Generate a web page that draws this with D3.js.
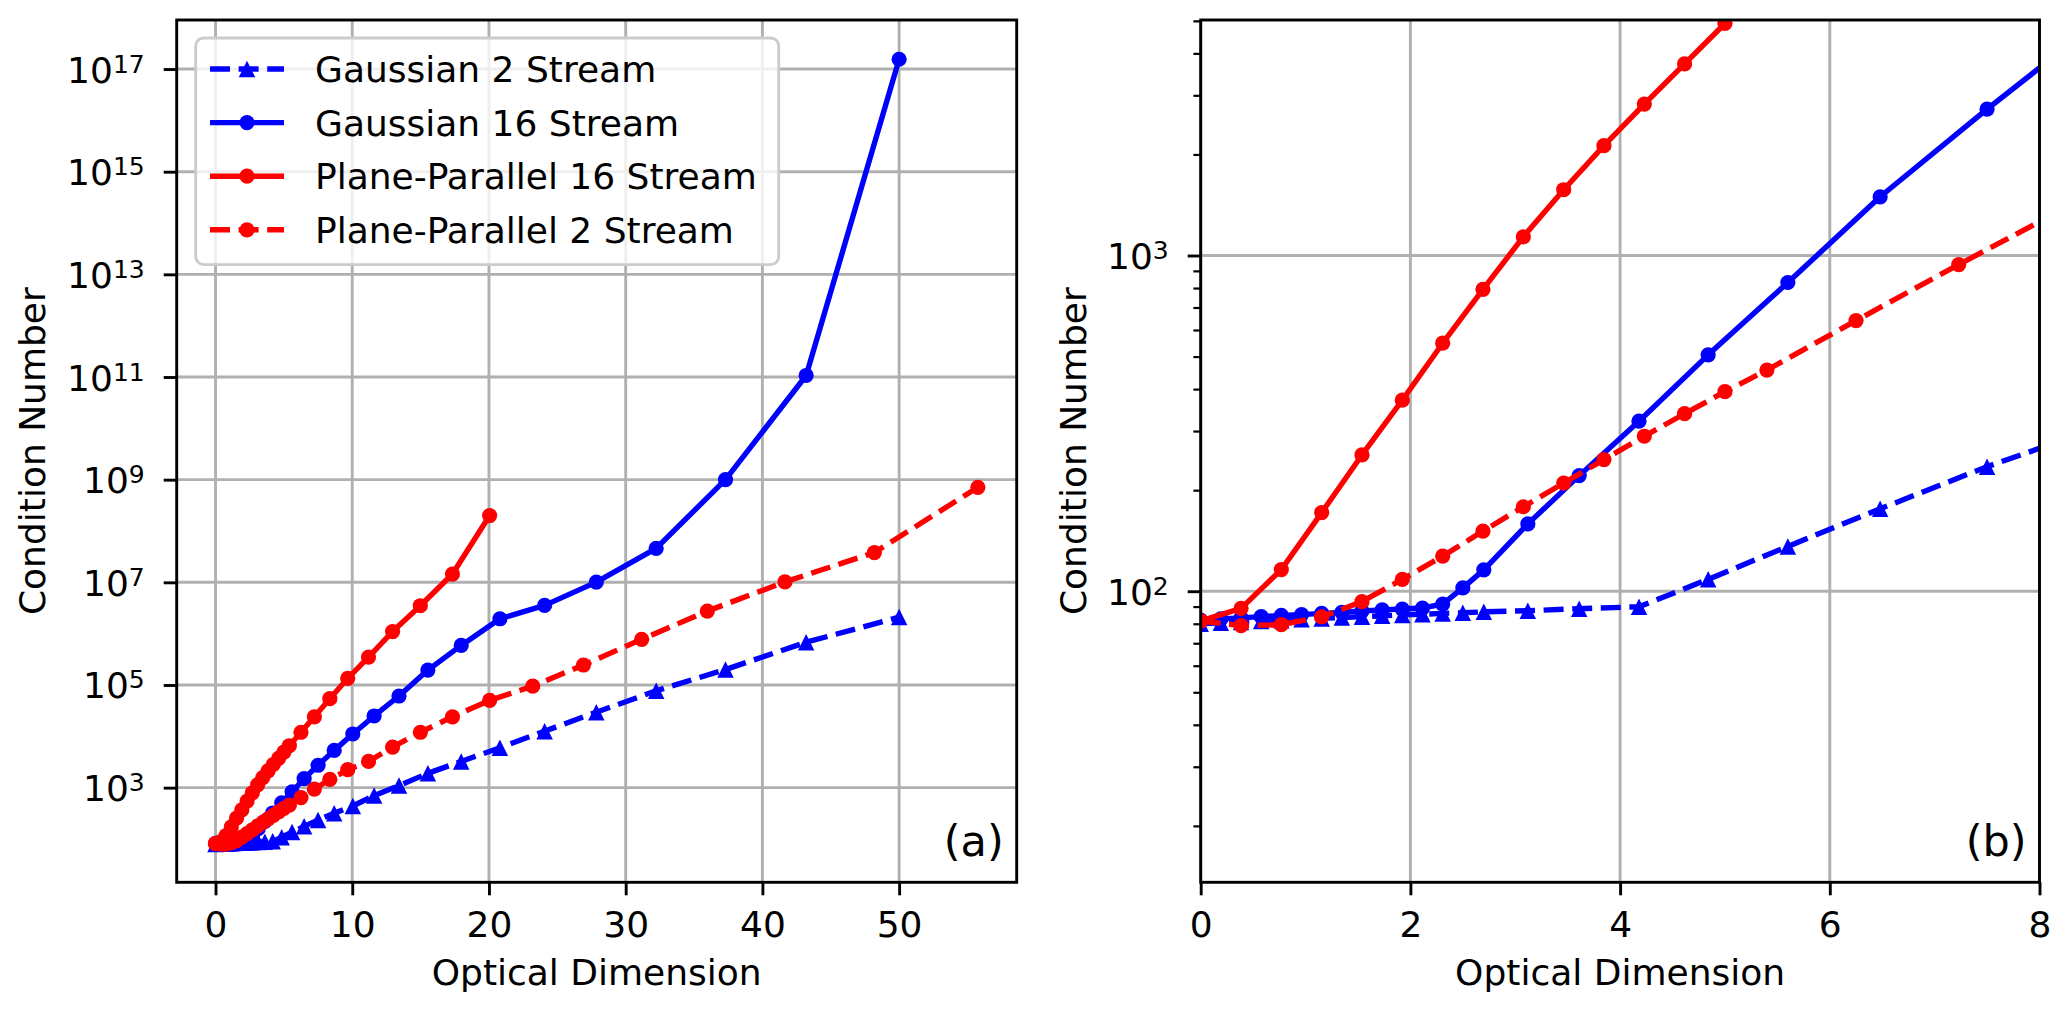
<!DOCTYPE html>
<html><head><meta charset="utf-8">
<script src="https://cdn.jsdelivr.net/npm/d3@7"></script>
<style>body{margin:0;background:#fff} text{font-family:"DejaVu Sans",sans-serif;fill:#000}</style>
</head><body><svg id="c" width="2067" height="1013"></svg>
<script>
// ---------------- DATA ----------------
const seriesNames = ["Gaussian 2 Stream", "Gaussian 16 Stream", "Plane-Parallel 16 Stream", "Plane-Parallel 2 Stream"];

const gauss2X = [0, 0.192, 0.385, 0.577, 0.769, 0.962, 1.154, 1.346, 1.538, 1.731, 1.923, 2.115, 2.308, 2.5,
  2.70, 3.12, 3.61, 4.18, 4.84, 5.60, 6.48, 7.50, 8.68, 10.04, 11.6, 13.42, 15.53, 17.97, 20.8, 24.07, 27.85, 32.23, 37.3, 43.2, 50.0];
const gauss2Y = [80, 80.5, 81, 81.5, 82, 82.5, 83, 83.5, 84, 84.5, 85, 85.4, 85.9, 86.3,
  86.8, 87.5, 88.7, 89.9, 108.5, 136, 176, 235, 316, 440, 700, 1100, 1900, 3240, 6000, 1.26e4, 2.95e4, 7.7e4, 2.0e5, 6.8e5, 2.1e6];

const gauss16X = [0, 0.192, 0.385, 0.577, 0.769, 0.962, 1.154, 1.346, 1.538, 1.731, 1.923, 2.115, 2.308, 2.5,
  2.70, 3.12, 3.61, 4.18, 4.84, 5.60, 6.48, 7.50, 8.68, 10.04, 11.6, 13.42, 15.53, 17.97, 20.8, 24.07, 27.85, 32.23, 37.3, 43.2, 50.0];
const gauss16Y = [82, 82.7, 83.3, 84, 84.7, 85.2, 85.9, 86.5, 87.3, 88, 88.5, 89.1, 91.6, 102.3,
  115.8, 158.7, 221, 321, 506, 831, 1496, 2729, 5320, 1.11e4, 2.49e4, 6.1e4, 1.95e5, 5.9e5, 1.95e6, 3.55e6, 1.01e7, 4.6e7, 1.0e9, 1.07e11, 1.55e17];

const pp16X = [0, 0.385, 0.769, 1.154, 1.538, 1.923, 2.308, 2.692, 3.077, 3.462, 3.846, 4.231, 4.615, 5.0,
  5.40, 6.25, 7.23, 8.36, 9.67, 11.19, 12.95, 14.98, 17.33, 20.05];
const pp16Y = [81.6, 88.9, 116, 171.5, 254.6, 370.7, 548, 793, 1137, 1570, 2124, 2825, 3724, 4911,
  6550, 1.2e4, 2.4e4, 5.4e4, 1.35e5, 3.5e5, 1.1e6, 3.5e6, 1.45e7, 2.0e8];

const pp2X = [0, 0.385, 0.769, 1.154, 1.538, 1.923, 2.308, 2.692, 3.077, 3.462, 3.846, 4.231, 4.615, 5.0,
  5.40, 6.25, 7.23, 8.36, 9.67, 11.19, 12.95, 14.98, 17.33, 20.05, 23.2, 26.91, 31.17, 35.97, 41.65, 48.19, 55.76];
const pp2Y = [81.5, 79, 79.5, 83.9, 93.1, 108.5, 127.2, 151, 178.5, 209.9, 246.7, 289.5, 337.9, 392.9,
  455.8, 640, 940, 1445, 2240, 3240, 6170, 1.2e4, 2.4e4, 5.0e4, 9.5e4, 2.45e5, 7.76e5, 2.75e6, 1.02e7, 3.8e7, 7.1e8];

const xTicksA = [0, 10, 20, 30, 40, 50];
const yTicksA = [1e3, 1e5, 1e7, 1e9, 1e11, 1e13, 1e15, 1e17];
const xTicksB = [0, 2, 4, 6, 8];
const yTicksB = [1e2, 1e3];
const yMinorB = [20, 30, 40, 50, 60, 70, 80, 90, 200, 300, 400, 500, 600, 700, 800, 900, 2000, 3000, 4000, 5000];

// ---------------- STYLE ----------------
const FS = 36, LW = 5.4, MR = 7.6, TRI = 16.5, GRID = "#b0b0b0";
const series = [
  {name: seriesNames[0], x: gauss2X, y: gauss2Y, color: "#0000ff", dash: true, marker: "tri"},
  {name: seriesNames[1], x: gauss16X, y: gauss16Y, color: "#0000ff", dash: false, marker: "circ"},
  {name: seriesNames[2], x: pp16X, y: pp16Y, color: "#ff0000", dash: false, marker: "circ"},
  {name: seriesNames[3], x: pp2X, y: pp2Y, color: "#ff0000", dash: true, marker: "circ"}
];
const DASH = (3.7 * LW).toFixed(1) + "," + (1.6 * LW).toFixed(1);
const triPath = `M0,${-TRI/2} L${TRI/2},${TRI/2} L${-TRI/2},${TRI/2} Z`;

const svg = d3.select("#c");
svg.append("rect").attr("width", 2067).attr("height", 1013).attr("fill", "#fff");

function drawMarker(g, type, cx, cy, color) {
  if (type === "circ") g.append("circle").attr("cx", cx).attr("cy", cy).attr("r", MR).attr("fill", color);
  else g.append("path").attr("d", triPath).attr("transform", `translate(${cx},${cy})`).attr("fill", color);
}

function supLabel(sel) {
  sel.each(function(d) {
    const t = d3.select(this);
    const e = Math.round(Math.log10(d));
    t.text(null).attr("dy", 13).attr("font-size", FS);
    t.append("tspan").text("10");
    t.append("tspan").attr("font-size", 25).attr("dy", -10).text(e);
  });
}

function panel(cfg) {
  const {L, R, T, B} = cfg;
  const x = d3.scaleLinear().domain(cfg.xDomain).range([L, R]);
  const y = d3.scaleLog().domain(cfg.yDomain).range([B, T]);
  const g = svg.append("g");
  const clipId = "clip" + cfg.id;
  svg.append("clipPath").attr("id", clipId).append("rect")
    .attr("x", L).attr("y", T).attr("width", R - L).attr("height", B - T);

  // grid
  const grid = g.append("g");
  cfg.xTicks.forEach(v => grid.append("line").attr("x1", x(v)).attr("x2", x(v)).attr("y1", T).attr("y2", B)
    .attr("stroke", GRID).attr("stroke-width", 2.9));
  cfg.yTicks.forEach(v => grid.append("line").attr("x1", L).attr("x2", R).attr("y1", y(v)).attr("y2", y(v))
    .attr("stroke", GRID).attr("stroke-width", 2.9));

  // data
  const dg = g.append("g").attr("clip-path", `url(#${clipId})`);
  const line = d3.line().x(d => x(d[0])).y(d => y(d[1]));
  series.forEach(s => {
    const pts = s.x.map((v, i) => [v, s.y[i]]);
    dg.append("path").attr("d", line(pts)).attr("fill", "none").attr("stroke", s.color)
      .attr("stroke-width", LW).attr("stroke-linejoin", "round")
      .attr("stroke-dasharray", s.dash ? DASH : null);
    pts.forEach(p => drawMarker(dg, s.marker, x(p[0]), y(p[1]), s.color));
  });

  // axes
  const xa = g.append("g").attr("transform", `translate(0,${B})`)
    .call(d3.axisBottom(x).tickValues(cfg.xTicks).tickSize(13).tickSizeOuter(0).tickFormat(d3.format("d")));
  xa.select(".domain").remove();
  xa.selectAll(".tick line").attr("stroke", "#000").attr("stroke-width", 2.9);
  xa.selectAll(".tick text").attr("y", 54.4).attr("dy", 0).attr("font-size", FS).attr("fill", "#000");

  if (cfg.yMinor) {
    const ym = g.append("g").attr("transform", `translate(${L},0)`)
      .call(d3.axisLeft(y).tickValues(cfg.yMinor.filter(v => v >= cfg.yDomain[0] && v <= cfg.yDomain[1]))
      .tickSize(7.3).tickSizeOuter(0).tickFormat(""));
    ym.select(".domain").remove();
    ym.selectAll(".tick line").attr("stroke", "#000").attr("stroke-width", 2.2);
  }
  const ya = g.append("g").attr("transform", `translate(${L},0)`)
    .call(d3.axisLeft(y).tickValues(cfg.yTicks).tickSize(13).tickPadding(19).tickSizeOuter(0));
  ya.select(".domain").remove();
  ya.selectAll(".tick line").attr("stroke", "#000").attr("stroke-width", 2.9);
  ya.selectAll(".tick text").call(supLabel);

  // spines
  g.append("rect").attr("x", L).attr("y", T).attr("width", R - L).attr("height", B - T)
    .attr("fill", "none").attr("stroke", "#000").attr("stroke-width", 2.9);

  // labels
  g.append("text").attr("x", (L + R) / 2).attr("y", 985).attr("text-anchor", "middle")
    .attr("font-size", FS).text("Optical Dimension");
  g.append("text").attr("transform", `translate(${cfg.ylabX},${(T + B) / 2}) rotate(-90)`)
    .attr("text-anchor", "middle").attr("font-size", FS).text("Condition Number");
  g.append("text").attr("x", R - 13).attr("y", 856).attr("text-anchor", "end")
    .attr("font-size", 43).text(cfg.tag);

  if (cfg.legend) {
    const lg = g.append("g");
    lg.append("rect").attr("x", 195.7).attr("y", 38).attr("width", 583).attr("height", 226.6)
      .attr("rx", 8).attr("fill", "#fff").attr("fill-opacity", 0.8)
      .attr("stroke", "#cccccc").attr("stroke-width", 2.9);
    series.forEach((s, i) => {
      const ry = 69 + i * 53.6;
      lg.append("line").attr("x1", 210).attr("x2", 284).attr("y1", ry).attr("y2", ry)
        .attr("stroke", s.color).attr("stroke-width", LW)
        .attr("stroke-dasharray", s.dash ? DASH : null);
      drawMarker(lg, s.marker, 247, ry, s.color);
      lg.append("text").attr("x", 315).attr("y", ry + 13).attr("font-size", FS).text(s.name);
    });
  }
}

panel({id: "A", L: 176.7, R: 1016.7, T: 20, B: 882.3, xDomain: [-2.84, 58.6],
  yDomain: [Math.pow(10, 1.156), Math.pow(10, 17.955)], xTicks: xTicksA, yTicks: yTicksA,
  ylabX: 45, tag: "(a)", legend: true});
panel({id: "B", L: 1200.7, R: 2039.5, T: 20, B: 882.3, xDomain: [0, 8],
  yDomain: [Math.pow(10, 1.133), Math.pow(10, 3.7015)], xTicks: xTicksB, yTicks: yTicksB, yMinor: yMinorB,
  ylabX: 1086, tag: "(b)", legend: false});
</script></body></html>
